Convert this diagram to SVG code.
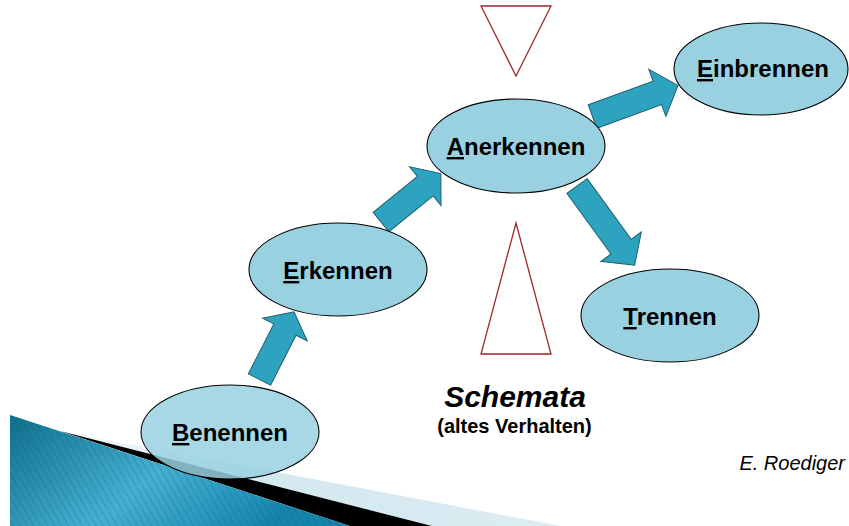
<svg xmlns="http://www.w3.org/2000/svg" width="849" height="526" viewBox="0 0 849 526">
<defs>
<style>
.node{fill:#99D1E0;stroke:#000;stroke-width:1.1}
.lbl{font-family:"Liberation Sans",Arial,sans-serif;font-weight:bold;font-size:24px;text-anchor:middle;fill:#000}
.ul{text-decoration:underline}
.arrow{fill:#2EA3BF;stroke:#1E5F70;stroke-width:1}
.tri{fill:#fff;stroke:#A3262A;stroke-width:1.3}
</style>
<linearGradient id="teal" x1="0" y1="0" x2="1" y2="0.4">
<stop offset="0" stop-color="#0E6E8B"/>
<stop offset="0.55" stop-color="#46B0D2"/>
<stop offset="1" stop-color="#1584AC"/>
</linearGradient>
<linearGradient id="light" x1="0" y1="0" x2="1" y2="0">
<stop offset="0" stop-color="#D4E8F0" stop-opacity="0.2"/>
<stop offset="0.4" stop-color="#D4E8F0" stop-opacity="1"/>
<stop offset="1" stop-color="#DCECF2"/>
</linearGradient>
<pattern id="stripes" width="6" height="6" patternUnits="userSpaceOnUse" patternTransform="rotate(-30)">
<rect width="6" height="6" fill="none"/>
<line x1="0" y1="0" x2="0" y2="6" stroke="#0A5A74" stroke-width="1.5" stroke-opacity="0.35"/>
</pattern>
</defs>
<rect width="849" height="526" fill="#fff"/>
<g id="decoration">
<polygon points="60,431 560,526 432,526" fill="url(#light)"/>
<polygon points="60,431 432,526 350,526" fill="#000"/>
<polygon points="10,415 350,526 10,526" fill="url(#teal)"/>
<polygon points="10,415 350,526 10,526" fill="url(#stripes)"/>
</g>
<g id="triangles">
<polygon class="tri" points="481,6 551,6 516,76"/>
<polygon class="tri" points="516,223 551,354 481,354"/>
</g>
<g id="connectors">
<polygon class="arrow" transform="translate(259.5,379.5) rotate(-63)" points="0,-12.5 56,-12.5 56,-25 76,0 56,25 56,12.5 0,12.5"/>
<polygon class="arrow" transform="translate(381,222) rotate(-39)" points="0,-12.5 57,-12.5 57,-25 77,0 57,25 57,12.5 0,12.5"/>
<polygon class="arrow" transform="translate(592.5,116.5) rotate(-20)" points="0,-12.5 69,-12.5 69,-25 91,0 69,25 69,12.5 0,12.5"/>
<polygon class="arrow" transform="translate(577,186) rotate(54)" points="0,-12.5 75,-12.5 75,-25 98,0 75,25 75,12.5 0,12.5"/>
</g>
<g id="benennen">
<ellipse class="node" cx="230" cy="432" rx="89" ry="47" fill-opacity="0.85"/>
<text class="lbl" x="230" y="441"><tspan class="ul">B</tspan>enennen</text>
</g>
<g id="erkennen">
<ellipse class="node" cx="338" cy="269.5" rx="89" ry="46.5"/>
<text class="lbl" x="338" y="279"><tspan class="ul">E</tspan>rkennen</text>
</g>
<g id="anerkennen">
<ellipse class="node" cx="516" cy="146" rx="89" ry="47"/>
<text class="lbl" x="516" y="155"><tspan class="ul">A</tspan>nerkennen</text>
</g>
<g id="einbrennen">
<ellipse class="node" cx="761" cy="69" rx="87" ry="46"/>
<text class="lbl" x="763" y="77"><tspan class="ul">E</tspan>inbrennen</text>
</g>
<g id="trennen">
<ellipse class="node" cx="670" cy="315.5" rx="89" ry="46.5"/>
<text class="lbl" x="670" y="325"><tspan class="ul">T</tspan>rennen</text>
</g>
<g id="labels" font-family="'Liberation Sans',Arial,sans-serif" fill="#000">
<text x="515" y="407" font-size="30" font-weight="bold" font-style="italic" text-anchor="middle">Schemata</text>
<text x="514.5" y="433" font-size="20" font-weight="bold" text-anchor="middle">(altes Verhalten)</text>
<text x="845" y="470" font-size="20" font-style="italic" text-anchor="end">E. Roediger</text>
</g>
</svg>
